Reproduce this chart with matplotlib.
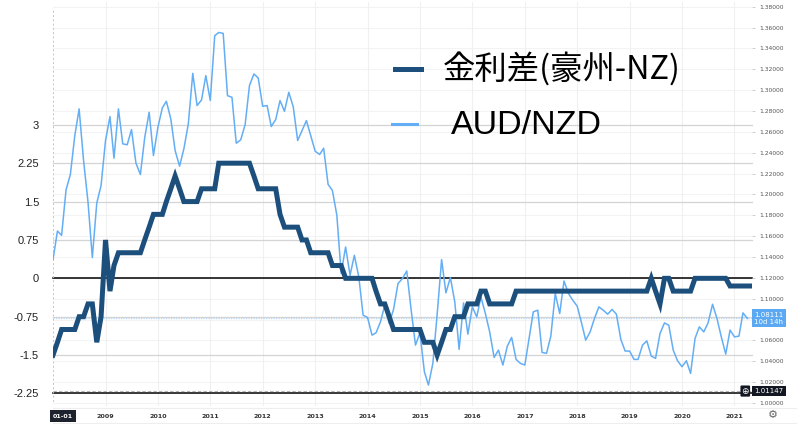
import matplotlib

matplotlib.use("Agg")
import matplotlib.dates as mdates
import matplotlib.pyplot as plt
import pandas as pd
from matplotlib.lines import Line2D
from matplotlib.transforms import blended_transform_factory

# monthly values, 2008-01 .. 2021-05 (policy-rate spread, AU minus NZ, %)
spread = [
    -1.5, -1.25, -1.0, -1.0, -1.0, -1.0, -0.75, -0.75, -0.5, -0.5, -1.25, -0.75,
    0.75, -0.25, 0.25, 0.5, 0.5, 0.5, 0.5, 0.5, 0.5, 0.75, 1.0, 1.25,
    1.25, 1.25, 1.5, 1.75, 2.0, 1.75, 1.5, 1.5, 1.5, 1.5, 1.75, 1.75,
    1.75, 1.75, 2.25, 2.25, 2.25, 2.25, 2.25, 2.25, 2.25, 2.25, 2.0, 1.75,
    1.75, 1.75, 1.75, 1.75, 1.25, 1.0, 1.0, 1.0, 1.0, 0.75, 0.75, 0.5,
    0.5, 0.5, 0.5, 0.5, 0.25, 0.25, 0.25, 0.0, 0.0, 0.0, 0.0, 0.0,
    0.0, 0.0, -0.25, -0.5, -0.5, -0.75, -1.0, -1.0, -1.0, -1.0, -1.0, -1.0,
    -1.0, -1.25, -1.25, -1.25, -1.5, -1.25, -1.0, -1.0, -0.75, -0.75, -0.75, -0.5,
    -0.5, -0.5, -0.25, -0.25, -0.5, -0.5, -0.5, -0.5, -0.5, -0.5, -0.25, -0.25,
    -0.25, -0.25, -0.25, -0.25, -0.25, -0.25, -0.25, -0.25, -0.25, -0.25, -0.25, -0.25,
    -0.25, -0.25, -0.25, -0.25, -0.25, -0.25, -0.25, -0.25, -0.25, -0.25, -0.25, -0.25,
    -0.25, -0.25, -0.25, -0.25, -0.25, 0.0, -0.25, -0.5, 0.0, 0.0, -0.25, -0.25,
    -0.25, -0.25, -0.25, 0.0, 0.0, 0.0, 0.0, 0.0, 0.0, 0.0, 0.0, -0.15,
    -0.15, -0.15, -0.15, -0.15, -0.15,
]

# monthly AUD/NZD, 2008-01 .. 2021-04
audnzd = [
    1.1375, 1.1649, 1.1608, 1.2045, 1.2191, 1.2565, 1.2820, 1.2325, 1.1926, 1.1394, 1.1917, 1.2086,
    1.2517, 1.2746, 1.2347, 1.2820, 1.2485, 1.2476, 1.2622, 1.2300, 1.2191, 1.2543, 1.2788, 1.2373,
    1.2644, 1.2830, 1.2893, 1.2724, 1.2421, 1.2271, 1.2437, 1.2677, 1.3161, 1.2852, 1.2906, 1.3139,
    1.2900, 1.3522, 1.3553, 1.3544, 1.2947, 1.2931, 1.2491, 1.2523, 1.2670, 1.3043, 1.3155, 1.3117,
    1.2845, 1.2852, 1.2651, 1.2718, 1.2900, 1.2797, 1.2979, 1.2842, 1.2517, 1.2612, 1.2708, 1.2565,
    1.2414, 1.2383, 1.2443, 1.2096, 1.2038, 1.1800, 1.1244, 1.1496, 1.1225, 1.1416, 1.1209, 1.0842,
    1.0820, 1.0651, 1.0673, 1.0778, 1.0938, 1.0763, 1.0897, 1.1145, 1.1193, 1.1266, 1.0890, 1.0555,
    1.0673, 1.0300, 1.0172, 1.0380, 1.0850, 1.1375, 1.1056, 1.1203, 1.0969, 1.0514, 1.0960, 1.0660,
    1.0922, 1.0826, 1.1017, 1.0858, 1.0682, 1.0437, 1.0507, 1.0364, 1.0545, 1.0629, 1.0418, 1.0380,
    1.0364, 1.0634, 1.0874, 1.0890, 1.0485, 1.0476, 1.0641, 1.1050, 1.0858, 1.1170, 1.1050, 1.0986,
    1.0928, 1.0763, 1.0603, 1.0682, 1.0810, 1.0922, 1.0890, 1.0852, 1.0897, 1.0852, 1.0610, 1.0498,
    1.0498, 1.0418, 1.0418, 1.0555, 1.0596, 1.0450, 1.0428, 1.0667, 1.0768, 1.0746, 1.0507, 1.0405,
    1.0348, 1.0405, 1.0284, 1.0619, 1.0730, 1.0682, 1.0768, 1.0947, 1.0810, 1.0634, 1.0469, 1.0699,
    1.0634, 1.0641, 1.0864, 1.0811,
]

left_ticks = [3, 2.25, 1.5, 0.75, 0, -0.75, -1.5, -2.25]
left_labels = ["3", "2.25", "1.5", "0.75", "0", "-0.75", "-1.5", "-2.25"]
right_ticks = [1.00 + 0.02 * i for i in range(20)]
year_ticks = list(range(2009, 2022))
last_price = 1.08111
low_price = 1.01147

DARK = "#1d4f7c"
LIGHT = "#63aef5"

spread_dates = pd.date_range("2008-01-01", periods=len(spread), freq="MS")
fx_dates = pd.date_range("2008-01-01", periods=len(audnzd), freq="MS")

W, H = 797, 429
fig = plt.figure(figsize=(W / 100, H / 100), dpi=100)
ax2 = fig.add_axes([53 / W, 23 / H, 699 / W, 404 / H])
ax = ax2.twinx()
ax.set_zorder(2)
ax2.set_zorder(1)
ax.patch.set_visible(False)

x0 = mdates.date2num(pd.Timestamp("2008-01-01"))
x1 = mdates.date2num(pd.Timestamp("2021-05-03"))
ax2.set_xlim(x0, x1)
ax.set_ylim(-2.495, 5.40)
ax2.set_ylim(0.99713, 1.3845)

for a in (ax, ax2):
    for s in a.spines.values():
        s.set_visible(False)

# faint background grid (right-axis levels and years)
for r in right_ticks:
    ax2.axhline(r, color="#f3f3f3", lw=0.8, zorder=0)
for yr in year_ticks:
    ax2.axvline(mdates.date2num(pd.Timestamp(f"{yr}-01-01")), color="#f0f0f0", lw=0.8, zorder=0)

# left-axis level lines, drawn under the FX line
trans = blended_transform_factory(ax2.transAxes, ax.transData)
for v in left_ticks:
    black = v in (0, -2.25)
    ax2.plot([0, 1], [v, v], transform=trans, color="black" if black else "#d4d4d4",
             lw=1.1 if black else 0.9, zorder=1, clip_on=False)

ax2.axhline(low_price, color="#b5b5b5", lw=0.8, ls=(0, (3, 2)), zorder=1)
ax2.axhline(last_price, color="#b7d7f7", lw=0.9, ls=(0, (1, 1)), zorder=1)
ax2.axvline(x0, color="#c4c4c4", lw=1.4, ls=(0, (1, 1.2)), ymin=0.01, ymax=0.98, zorder=1)

ax2.plot(fx_dates, audnzd, color=LIGHT, lw=1.1, zorder=3)
ax.plot(spread_dates, spread, color=DARK, lw=3.6, solid_joinstyle="miter", zorder=4)

# left axis labels
ax.yaxis.tick_left()
ax.set_yticks(left_ticks)
ax.set_yticklabels(left_labels, family="Liberation Sans", fontsize=8, color="#222")
ax.tick_params(axis="y", length=0, pad=10)

# right axis labels (1.08000 sits behind the last-price tag)
ax2.yaxis.tick_right()
ax2.set_yticks(right_ticks)
ax2.set_yticklabels(["" if abs(r - 1.08) < 1e-9 else f"{r:.5f}" for r in right_ticks],
                    fontsize=4.3, color="#555")
ax2.tick_params(axis="y", length=2.5, width=0.5, color="#bbbbbb", pad=3)

# x axis labels
ax2.set_xticks([mdates.date2num(pd.Timestamp(f"{yr}-01-01")) for yr in year_ticks])
ax2.set_xticklabels([str(yr) for yr in year_ticks], fontsize=4.6, color="#333", fontweight="bold")
ax2.tick_params(axis="x", length=0, pad=6)
ax.tick_params(axis="x", bottom=False, labelbottom=False)

fig.text(53 / W, 1 - 416 / H, "01-01", fontsize=4.6, color="white", fontweight="bold",
         ha="left", va="center",
         bbox=dict(boxstyle="square,pad=0.5", fc="#1e222d", ec="none"))

# price tags at the right edge
tag_trans = blended_transform_factory(ax2.transAxes, ax2.transData)
ax2.text(1.003, last_price, "1.08111\n10d 14h", transform=tag_trans, fontsize=5, color="white",
         ha="left", va="center", multialignment="center", linespacing=1.25, zorder=10, clip_on=False,
         bbox=dict(boxstyle="square,pad=0.35", fc="#5aa9f2", ec="none"))
ax2.text(1.003, low_price, "1.01147", transform=tag_trans, fontsize=5, color="white",
         ha="left", va="center", zorder=10, clip_on=False,
         bbox=dict(boxstyle="square,pad=0.35", fc="#131722", ec="none"))
ax2.text(0.985, low_price, "\u2295", transform=tag_trans, fontsize=6.5, color="white",
         ha="left", va="center", zorder=10, clip_on=False,
         bbox=dict(boxstyle="round,pad=0.12", fc="#131722", ec="none"))
fig.text(773 / W, 1 - 415 / H, "\u2699", fontsize=8, color="#666", ha="center", va="center")

# bottom separators
fig.add_artist(Line2D([53 / W, 1], [1 - 408 / H] * 2, color="#eeeeee", lw=0.8))
fig.add_artist(Line2D([53 / W, 1], [1 - 423 / H] * 2, color="#eeeeee", lw=0.8))

# legend
fig.add_artist(Line2D([395 / W, 421 / W], [1 - 69 / H] * 2, color=DARK, lw=3.6))
fig.add_artist(Line2D([392 / W, 417 / W], [1 - 124 / H] * 2, color=LIGHT, lw=2.2))
fig.text(443 / W, 1 - 69 / H, "金利差(豪州-NZ)", family=["Noto Sans CJK JP", "DejaVu Sans"],
         fontsize=23.3, color="black", ha="left", va="center")
fig.text(451 / W, 1 - 125 / H, "AUD/NZD", family="Liberation Sans",
         fontsize=24.5, color="black", ha="left", va="center")

fig.savefig("out.png", dpi=100)
